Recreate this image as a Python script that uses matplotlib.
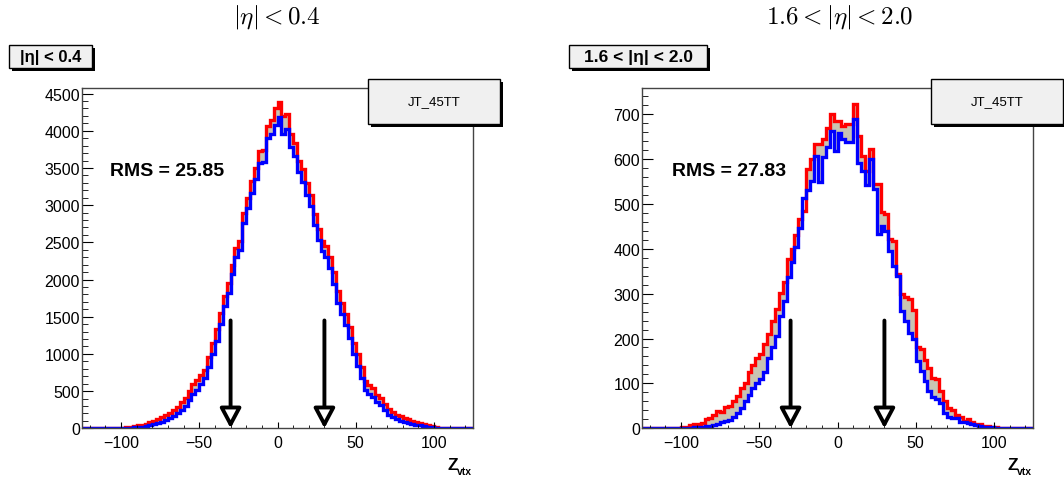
import numpy as np
import matplotlib
matplotlib.use('Agg')
import matplotlib.pyplot as plt
from matplotlib.patches import Rectangle
from matplotlib.ticker import MultipleLocator

plt.rcParams['font.family'] = ['Liberation Sans', 'DejaVu Sans']
plt.rcParams['mathtext.fontset'] = 'cm'

# 100 bins of 2.5 from -125 to 125
edges = np.linspace(-125, 125, 101)

# |eta| < 0.4
left_red = [0, 0, 0, 0, 0, 0, 0, 1, 2, 4,
            10, 15, 22, 30, 38, 50, 62, 80, 100, 120,
            148, 175, 210, 245, 290, 350, 410, 500, 590, 650,
            720, 790, 960, 1150, 1330, 1550, 1780, 1950, 2200, 2420,
            2520, 2900, 3100, 3320, 3500, 3730, 3740, 4070, 4150, 4310,
            4381, 4200, 4230, 3960, 3840, 3600, 3480, 3300, 3140, 2880,
            2680, 2520, 2450, 2300, 2100, 1840, 1680, 1540, 1360, 1150,
            1000, 830, 640, 580, 540, 450, 410, 330, 260, 220,
            180, 160, 140, 125, 100, 85, 75, 55, 40, 30,
            15, 6, 3, 1, 0, 0, 0, 0, 0, 0]
left_blue = [0, 0, 0, 0, 0, 0, 0, 0, 1, 2,
             4, 6, 9, 13, 18, 24, 32, 42, 55, 68,
             88, 108, 135, 165, 205, 250, 305, 375, 455, 520,
             595, 670, 820, 1000, 1180, 1400, 1640, 1820, 2080, 2300,
             2400, 2760, 2960, 3170, 3350, 3560, 3580, 3900, 3950, 4080,
             4180, 3950, 4020, 3780, 3660, 3440, 3310, 3140, 2990, 2730,
             2530, 2380, 2300, 2150, 1940, 1690, 1530, 1390, 1210, 1000,
             840, 680, 510, 460, 420, 350, 310, 240, 185, 150,
             120, 100, 88, 76, 60, 50, 42, 30, 22, 15,
             7, 3, 1, 0, 0, 0, 0, 0, 0, 0]

# 1.6 < |eta| < 2.0
right_red = [0, 0, 0, 0, 0, 0, 0, 0, 0, 1,
             2, 3, 8, 10, 10, 12, 20, 23, 30, 38,
             36, 48, 50, 60, 72, 90, 100, 125, 140, 157,
             165, 187, 210, 240, 265, 302, 325, 377, 400, 430,
             466, 484, 577, 600, 633, 633, 644, 670, 700, 685,
             685, 674, 678, 678, 722, 651, 606, 574, 623, 545,
             544, 481, 477, 421, 418, 343, 300, 292, 288, 264,
             180, 176, 153, 135, 113, 110, 83, 61, 45, 40,
             30, 25, 17, 20, 13, 10, 9, 6, 5, 3,
             2, 1, 0, 0, 0, 0, 0, 0, 0, 0]
right_blue = [0, 0, 0, 0, 0, 0, 0, 0, 0, 0,
              0, 1, 1, 2, 3, 4, 5, 6, 8, 10,
              13, 16, 19, 25, 35, 45, 60, 75, 90, 100,
              110, 125, 157, 180, 205, 250, 284, 336, 370, 403,
              447, 514, 530, 551, 607, 548, 604, 626, 662, 617,
              658, 644, 637, 637, 689, 592, 573, 543, 600, 533,
              432, 451, 440, 396, 362, 339, 261, 239, 213, 200,
              150, 127, 105, 83, 70, 66, 57, 35, 26, 24,
              22, 14, 13, 12, 9, 8, 6, 4, 3, 2,
              1, 0, 0, 0, 0, 0, 0, 0, 0, 0]

titles = [r'$|\eta| < 0.4$', r'$1.6 < |\eta| < 2.0$']
labels = ['|η| < 0.4', '1.6 < |η| < 2.0']
rms = ['RMS = 25.85', 'RMS = 27.83']
trigger = 'JT_45TT'
cut = 30

FILL = '#c9c4b2'
W, H = 1064, 485
fig = plt.figure(figsize=(W / 100, H / 100), dpi=100)


def fx(x):
    return x / W


def fy(y):
    return 1 - y / H


def shadow_box(x0, y0, x1, y1, text, size, weight):
    fig.add_artist(Rectangle((fx(x0 + 3), fy(y1 + 3)), (x1 - x0) / W, (y1 - y0) / H,
                             transform=fig.transFigure, color='black', lw=0, zorder=5))
    fig.add_artist(Rectangle((fx(x0), fy(y1)), (x1 - x0) / W, (y1 - y0) / H,
                             transform=fig.transFigure, fc='#f0f0f0', ec='black', lw=1, zorder=6))
    fig.text(fx((x0 + x1) / 2), fy((y0 + y1) / 2), text, fontsize=size, fontweight=weight,
             ha='center', va='center', zorder=7)


panels = [
    dict(x0=82, red=left_red, blue=left_blue, ymax=4575, major=500, minor=100, arrow_top=1450,
         title_x=277, lab=(9, 92), leg=(368, 500), rms_x=110, labsize=12),
    dict(x0=642, red=right_red, blue=right_blue, ymax=758, major=100, minor=20, arrow_top=240,
         title_x=840, lab=(569, 707), leg=(931, 1063), rms_x=672, labsize=12.5),
]

for k, p in enumerate(panels):
    ax = fig.add_axes([fx(p['x0']), fy(429.3), 391 / W, (429.3 - 89) / H])
    ax.stairs(p['red'], edges, fill=True, color=FILL, lw=0)
    ax.stairs(p['blue'], edges, fill=True, color='white', lw=0)
    ax.stairs(p['red'], edges, baseline=None, color='#ff0000', lw=2.4)
    ax.stairs(p['blue'], edges, baseline=None, color='#0000ff', lw=2.4)
    ax.set_xlim(-125, 125)
    ax.set_ylim(0, p['ymax'])

    ax.xaxis.set_major_locator(MultipleLocator(50))
    ax.xaxis.set_minor_locator(MultipleLocator(10))
    ax.yaxis.set_major_locator(MultipleLocator(p['major']))
    ax.yaxis.set_minor_locator(MultipleLocator(p['minor']))
    ax.tick_params(which='both', direction='in', top=False, right=False, labelsize=11.5)
    ax.tick_params(axis='y', which='major', length=8, pad=1.5)
    ax.tick_params(axis='y', which='minor', length=4)
    ax.tick_params(axis='x', which='major', length=4, pad=5)
    ax.tick_params(axis='x', which='minor', length=2)
    for s in ax.spines.values():
        s.set_color('#444444')
        s.set_linewidth(1)

    for xa in (-cut, cut):
        ax.annotate('', xy=(xa, 0), xytext=(xa, p['arrow_top']),
                    arrowprops=dict(arrowstyle='-|>,head_length=0.6,head_width=0.32',
                                    mutation_scale=20, lw=2.8, fc='white', ec='black',
                                    shrinkA=0, shrinkB=0), zorder=10)

    fig.text(fx(p['rms_x']), fy(172), rms[k], fontsize=14, fontweight='bold',
             ha='left', va='center')

    fig.text(fx(p['title_x']), fy(17), titles[k], fontsize=18, ha='center', va='center')
    shadow_box(p['lab'][0], 46, p['lab'][1], 69, labels[k], p['labsize'], 'bold')
    shadow_box(p['leg'][0], 80, p['leg'][1], 125, trigger, 9.5, 'normal')

    xr = p['x0'] + 391
    fig.text(fx(xr - 26), fy(470), 'Z', fontsize=12.5, fontweight='bold', ha='left', va='baseline')
    fig.text(fx(xr - 16), fy(475), 'vtx', fontsize=7.5, fontweight='bold', ha='left', va='baseline')

fig.savefig('out.png', dpi=100)
